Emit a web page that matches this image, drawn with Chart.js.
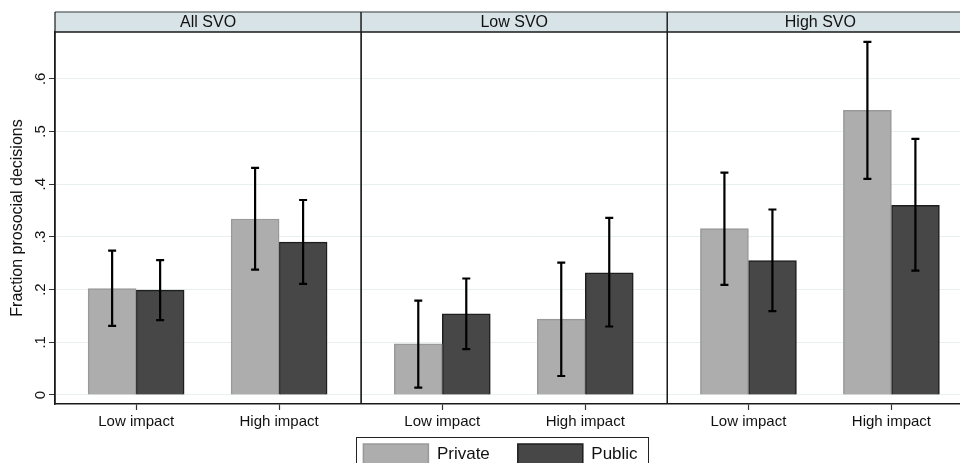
<!DOCTYPE html>
<html>
<head>
<meta charset="utf-8">
<script src="https://cdn.jsdelivr.net/npm/chart.js@4.4.0/dist/chart.umd.min.js"></script>
<style>
  html, body { margin: 0; padding: 0; background: #fff; overflow: hidden; }
  #wrap { width: 1001px; height: 492px; }
</style>
</head>
<body>
<div id="wrap"><canvas id="chart" width="1001" height="492"></canvas></div>
<script>
const panels = ['All SVO', 'Low SVO', 'High SVO'];
const impacts = ['Low impact', 'High impact'];

// one value per panel x impact, in panel order
const privateMean = [0.202, 0.334, 0.097, 0.144, 0.316, 0.540];
const privateLo   = [0.131, 0.238, 0.014, 0.036, 0.209, 0.410];
const privateHi   = [0.274, 0.431, 0.179, 0.251, 0.422, 0.670];
const publicMean  = [0.199, 0.290, 0.154, 0.232, 0.255, 0.360];
const publicLo    = [0.142, 0.211, 0.087, 0.130, 0.159, 0.236];
const publicHi    = [0.256, 0.370, 0.221, 0.336, 0.352, 0.486];

const yTicks = [0, 0.1, 0.2, 0.3, 0.4, 0.5, 0.6];

const FONT = "'Liberation Sans', Arial, Helvetica, sans-serif";
Chart.defaults.font.family = FONT;
Chart.defaults.color = '#111';

// where each impact group sits inside its panel (a panel is 1 unit wide)
const slot = [0.265, 0.732];
const xPos = [];
const xLabels = [];
panels.forEach((p, i) => impacts.forEach((m, j) => { xPos.push(i + slot[j]); xLabels.push(m); }));

function points(values) {
  return values.map((v, i) => ({ x: xPos[i], y: v }));
}

// confidence intervals on top of the bars
const errorBars = {
  id: 'errorBars',
  afterDatasetsDraw(chart) {
    const ctx = chart.ctx, y = chart.scales.y;
    ctx.save();
    ctx.strokeStyle = '#000';
    ctx.lineWidth = 2.2;
    chart.data.datasets.forEach((ds, d) => {
      chart.getDatasetMeta(d).data.forEach((bar, i) => {
        const top = y.getPixelForValue(ds.hi[i]);
        const bot = y.getPixelForValue(ds.lo[i]);
        ctx.beginPath();
        ctx.moveTo(bar.x, top); ctx.lineTo(bar.x, bot);
        ctx.moveTo(bar.x - 4, top); ctx.lineTo(bar.x + 4, top);
        ctx.moveTo(bar.x - 4, bot); ctx.lineTo(bar.x + 4, bot);
        ctx.stroke();
      });
    });
    ctx.restore();
  }
};

// panel header strips, dividers and the box round the legend
const panelFrame = {
  id: 'panelFrame',
  afterLayout(chart) {
    // pull the legend up so it sits just under the axis labels
    const lg = chart.legend;
    lg.top = chart.chartArea.bottom + 12;
    lg.bottom = lg.top + lg.height;
  },
  afterDraw(chart) {
    const { ctx, chartArea: a, scales: { x } } = chart;
    const top = 12;
    ctx.save();
    for (let p = 0; p < panels.length; p++) {
      const l = x.getPixelForValue(p), r = x.getPixelForValue(p + 1);
      ctx.fillStyle = '#d8e3e8';
      ctx.fillRect(l, top, r - l, a.top - top);
      ctx.lineWidth = 1.5;
      ctx.strokeStyle = '#6e7476';
      ctx.beginPath(); ctx.moveTo(l, top); ctx.lineTo(r, top); ctx.stroke();
      ctx.strokeStyle = '#1a1a1a';
      ctx.beginPath(); ctx.moveTo(l, a.top); ctx.lineTo(r, a.top); ctx.stroke();
      ctx.lineWidth = 1.2;
      ctx.beginPath(); ctx.moveTo(l, top); ctx.lineTo(l, a.bottom); ctx.stroke();
      ctx.beginPath(); ctx.moveTo(r, top); ctx.lineTo(r, a.bottom); ctx.stroke();
      ctx.fillStyle = '#111';
      ctx.font = '16px ' + FONT;
      ctx.textAlign = 'center';
      ctx.textBaseline = 'middle';
      ctx.fillText(panels[p], (l + r) / 2, (top + a.top) / 2 + 1);
    }
    const hb = chart.legend.legendHitBoxes;
    if (hb && hb.length) {
      const last = hb[hb.length - 1];
      const l = hb[0].left - 7, r = last.left + last.width + 11;
      ctx.strokeStyle = '#222';
      ctx.lineWidth = 1;
      ctx.strokeRect(Math.round(l) + 0.5, Math.round(hb[0].top - 7) + 0.5, Math.round(r - l), 40);
    }
    ctx.restore();
  }
};

new Chart(document.getElementById('chart'), {
  type: 'bar',
  data: {
    datasets: [
      {
        label: 'Private', data: points(privateMean), lo: privateLo, hi: privateHi,
        backgroundColor: '#adadad', borderColor: '#999999', borderWidth: 1.5, barThickness: 48
      },
      {
        label: 'Public', data: points(publicMean), lo: publicLo, hi: publicHi,
        backgroundColor: '#474747', borderColor: '#1e1e1e', borderWidth: 1.5, barThickness: 48
      }
    ]
  },
  options: {
    responsive: false,
    animation: false,
    devicePixelRatio: 1,
    layout: { padding: { top: 32, bottom: 0, left: 0, right: 0 } },
    plugins: {
      legend: {
        position: 'bottom',
        labels: { boxWidth: 65, boxHeight: 20, padding: 28, color: '#111', font: { size: 17 } }
      },
      tooltip: { enabled: false }
    },
    scales: {
      x: {
        type: 'linear',
        offset: false,
        min: 0,
        max: 3.09,
        afterBuildTicks: s => { s.ticks = xPos.map(v => ({ value: v })); },
        afterFit: s => { s.height = 30; },
        ticks: {
          autoSkip: false, maxRotation: 0, padding: 3, color: '#111', font: { size: 15 },
          callback: (v, i) => xLabels[i]
        },
        grid: {
          offset: false, drawOnChartArea: false, drawTicks: true,
          tickLength: 6, tickColor: '#333', tickWidth: 1.2
        },
        border: { color: '#1a1a1a', width: 1.5 }
      },
      y: {
        min: -0.0171,
        max: 0.6888,
        afterBuildTicks: s => { s.ticks = yTicks.map(v => ({ value: v })); },
        afterFit: s => { s.width = 55; },
        ticks: {
          minRotation: 90, maxRotation: 90, crossAlign: 'center', padding: 2,
          color: '#111', font: { size: 15 },
          callback: v => v === 0 ? '0' : '.' + Math.round(v * 10)
        },
        grid: { color: '#e8eff1', lineWidth: 1, tickLength: 6, tickColor: '#333' },
        border: { color: '#1a1a1a', width: 1.5 },
        title: {
          display: true, text: 'Fraction prosocial decisions', color: '#111',
          font: { size: 16 }, padding: { top: 8, bottom: 0 }
        }
      }
    }
  },
  plugins: [errorBars, panelFrame]
});
</script>
</body>
</html>
